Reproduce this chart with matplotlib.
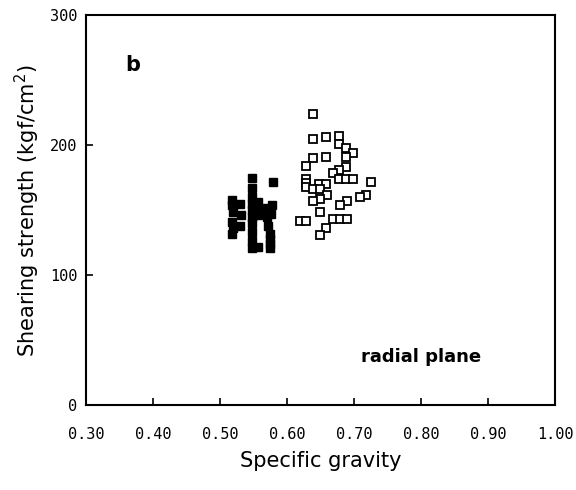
import matplotlib
matplotlib.use("Agg")
import matplotlib.pyplot as plt

# open squares (one group)
open_sg = [0.639, 0.639, 0.658, 0.678, 0.678, 0.688, 0.698, 0.688, 0.639, 0.658,
           0.628, 0.688, 0.678, 0.668, 0.678, 0.688, 0.698, 0.725, 0.628, 0.628,
           0.628, 0.648, 0.658, 0.639, 0.649, 0.659, 0.649, 0.639, 0.718, 0.709,
           0.689, 0.679, 0.649, 0.619, 0.628, 0.669, 0.679, 0.689, 0.658, 0.649]
open_ss = [224, 205, 206, 207, 201, 198, 194, 191, 190, 191,
           184, 183, 181, 179, 174, 174, 174, 172, 174, 171,
           168, 170, 170, 166, 166, 162, 159, 157, 162, 160,
           157, 154, 149, 142, 142, 143, 143, 143, 136, 131]

# filled squares
filled_sg = [0.518, 0.518, 0.520, 0.518, 0.520, 0.518,
             0.530, 0.532, 0.530,
             0.548, 0.548, 0.548, 0.548, 0.548, 0.548, 0.548, 0.548, 0.548, 0.548,
             0.556, 0.556, 0.556, 0.556,
             0.566, 0.568, 0.570, 0.572, 0.574, 0.574, 0.574, 0.574,
             0.579, 0.578, 0.576]
filled_ss = [158, 154, 149, 141, 136, 132,
             155, 146, 138,
             175, 167, 160, 155, 150, 145, 140, 133, 126, 121,
             156, 150, 146, 122,
             152, 148, 145, 138, 132, 128, 124, 121,
             172, 154, 147]

xticks = [0.30, 0.40, 0.50, 0.60, 0.70, 0.80, 0.90, 1.00]
yticks = [0, 100, 200, 300]

fig = plt.figure(figsize=(5.76, 4.90), dpi=100)
ax = fig.add_axes([0.149, 0.173, 0.815, 0.796])

ax.plot(open_sg, open_ss, 's', ms=5.5, mfc='white', mec='black', mew=1.3)
ax.plot(filled_sg, filled_ss, 's', ms=5.5, mfc='black', mec='black', mew=1.0)

ax.set_xlim(0.30, 1.00)
ax.set_ylim(0, 300)
ax.set_xticks(xticks)
ax.set_yticks(yticks)
ax.set_xticklabels(['%.2f' % v for v in xticks], family='DejaVu Sans Mono', fontsize=11)
ax.set_yticklabels([str(v) for v in yticks], family='DejaVu Sans Mono', fontsize=11)
ax.tick_params(direction='in', length=5, width=1.2)
ax.tick_params(axis='x', pad=16)
ax.tick_params(axis='y', pad=6)
for s in ax.spines.values():
    s.set_linewidth(1.5)

ax.set_xlabel('Specific gravity', fontsize=15, labelpad=6)
ax.set_ylabel('Shearing strength (kgf/cm$^2$)', fontsize=15, labelpad=6)

ax.text(0.37, 262, 'b', fontsize=15, fontweight='bold', ha='center', va='center')
ax.text(0.80, 37, 'radial plane', fontsize=13, fontweight='bold', ha='center', va='center')

fig.savefig('out.png', dpi=100)
